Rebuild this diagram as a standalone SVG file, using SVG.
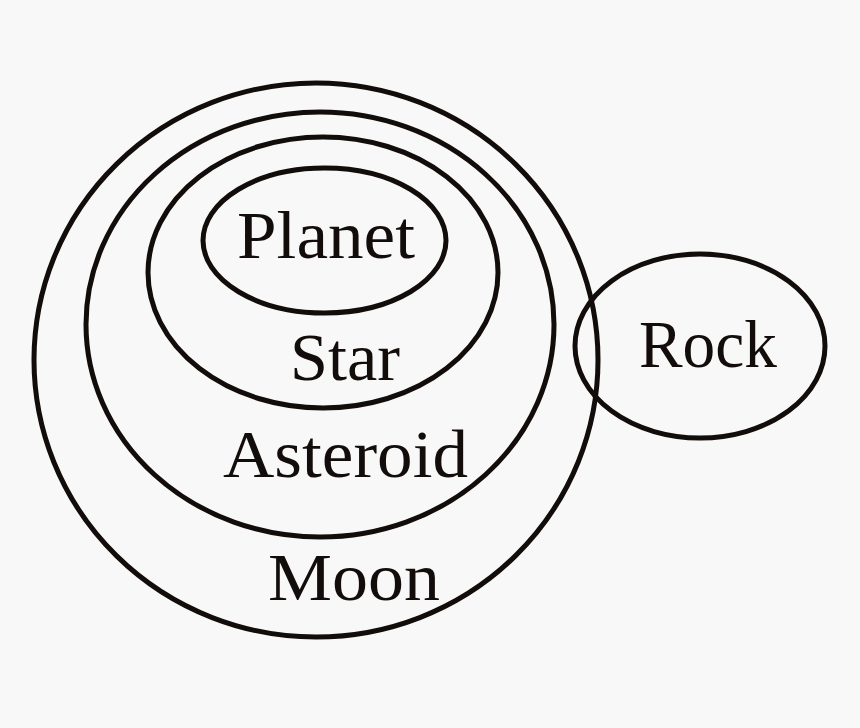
<svg xmlns="http://www.w3.org/2000/svg" width="860" height="728" viewBox="0 0 860 728">
<style>
.c{fill:none;stroke:#120c0a;stroke-width:5}
.t{font-family:"Liberation Serif","Times New Roman",serif;font-size:68px;fill:#120c0a;text-anchor:middle}
</style>
<rect width="860" height="728" fill="#f8f8f8"/>
<g id="moon"><ellipse class="c" cx="316" cy="360" rx="282" ry="277"/><text class="t" x="354" y="600" textLength="172" lengthAdjust="spacingAndGlyphs">Moon</text></g>
<g id="asteroid"><ellipse class="c" cx="320" cy="324.5" rx="234" ry="212.5"/><text class="t" x="345.5" y="477" textLength="245" lengthAdjust="spacingAndGlyphs">Asteroid</text></g>
<g id="star"><ellipse class="c" cx="323" cy="272.5" rx="175" ry="135.5"/><text class="t" x="345" y="380" textLength="110" lengthAdjust="spacingAndGlyphs">Star</text></g>
<g id="planet"><ellipse class="c" cx="324.5" cy="240.5" rx="121.5" ry="72.5"/><text class="t" x="326" y="258" textLength="178" lengthAdjust="spacingAndGlyphs">Planet</text></g>
<g id="rock"><ellipse class="c" cx="700" cy="346" rx="125" ry="92"/><text class="t" x="708" y="367" textLength="138" lengthAdjust="spacingAndGlyphs">Rock</text></g>
<g id="connectors"></g>
</svg>
